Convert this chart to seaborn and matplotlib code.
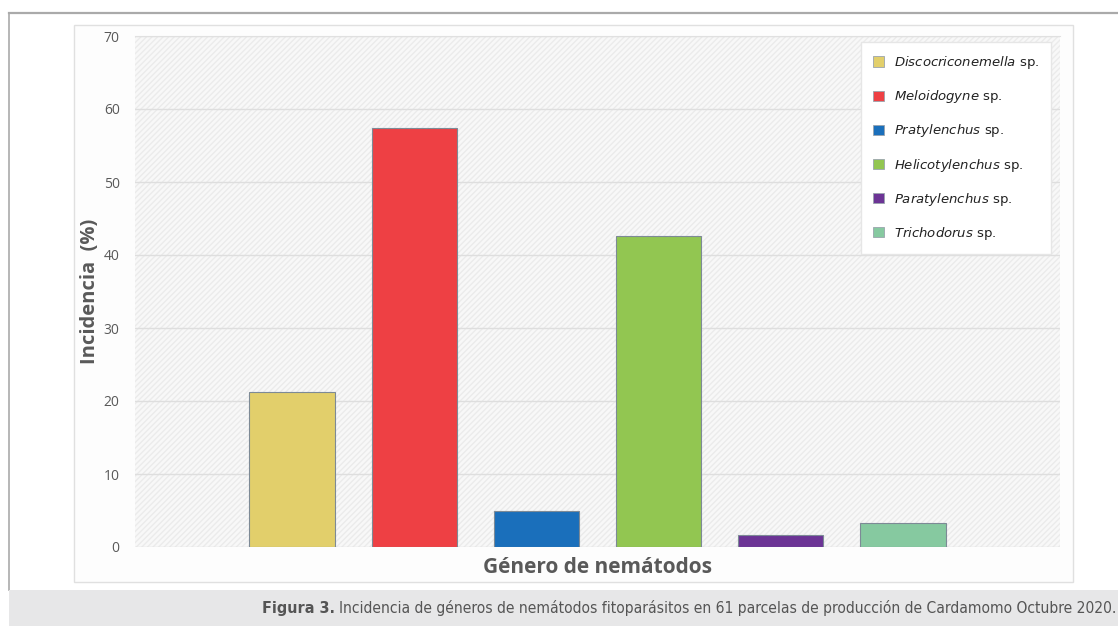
import matplotlib
matplotlib.use("Agg")
import matplotlib.pyplot as plt
import matplotlib.patches as mpatches
import seaborn as sns
import pandas as pd

# Data (incidence %, 61 plots)
generos = ["Discocriconemella", "Meloidogyne", "Pratylenchus",
           "Helicotylenchus", "Paratylenchus", "Trichodorus"]
incidencia = [21.3, 57.4, 4.9, 42.6, 1.6, 3.3]
colores = ["#e2cf6b", "#ee4044", "#1a6fbb", "#92c651", "#6c3495", "#86c9a0"]
yticks = [0, 10, 20, 30, 40, 50, 60, 70]

df = pd.DataFrame({"genero": generos, "incidencia": incidencia})

W, H = 1118, 626
fig = plt.figure(figsize=(W / 100, H / 100), dpi=100)
fig.patch.set_facecolor("white")

def fx(px):
    return px / W

def fy(py):
    return 1 - py / H

# outer frame lines + caption band
fig.add_artist(plt.Line2D([fx(9), 1], [fy(13), fy(13)], color="#aaaaaa", lw=1.6, zorder=-5))
fig.add_artist(plt.Line2D([fx(9), fx(9)], [fy(13), fy(590)], color="#aaaaaa", lw=1.2, zorder=-5))
fig.add_artist(mpatches.Rectangle((fx(9), 0), 1 - fx(9), fy(590), transform=fig.transFigure,
                                  facecolor="#e7e7e8", edgecolor="none", zorder=-5))
# inner chart box
fig.add_artist(mpatches.Rectangle((fx(74), fy(582)), fx(1073) - fx(74), fy(25) - fy(582),
                                  transform=fig.transFigure, facecolor="#fdfdfd",
                                  edgecolor="#e0e0e0", lw=1, zorder=-5))

ax = fig.add_axes([fx(135), fy(547), fx(1060) - fx(135), fy(36) - fy(547)])
ax.set_facecolor("#f6f6f6")
# hatched plot background
ax.add_patch(mpatches.Rectangle((0, 0), 1, 1, transform=ax.transAxes, facecolor="#f8f8f8",
                                edgecolor="#ebebeb", hatch="//////", lw=0, zorder=0))

sns.barplot(data=df, x="genero", y="incidencia", hue="genero", palette=colores,
            saturation=1, dodge=False, width=0.7, edgecolor="#7d8a96", linewidth=0.8,
            legend=False, ax=ax, zorder=3)

ax.set_xlim(-1.287, 6.287)
ax.set_ylim(0, 70)
ax.set_yticks(yticks)
ax.set_xticks([])
ax.yaxis.grid(True, color="#dedede", lw=1, zorder=1)
ax.set_axisbelow(True)
for s in ["left", "right", "bottom"]:
    ax.spines[s].set_visible(False)
ax.spines["top"].set_color("#e0e0e0")
ax.tick_params(axis="y", length=0, pad=11, labelsize=10, labelcolor="#595959")
for lab in ax.get_yticklabels():
    lab.set_family("Open Sans")

ax.set_ylabel("Incidencia  (%)", fontsize=14.5, fontweight="bold", color="#595959",
              family="Open Sans", labelpad=3)
ax.set_xlabel("Género de nemátodos", fontsize=15, fontweight="bold", color="#595959",
              family="Open Sans", labelpad=7)

# legend
handles = [mpatches.Patch(facecolor=c, edgecolor="#9aa4ad", lw=0.6) for c in colores]
labels = [r"$\it{" + g + "}$ sp." for g in generos]
leg = ax.legend(handles, labels, loc="upper right", bbox_to_anchor=(0.9935, 0.993),
                fontsize=9.5, labelspacing=1.3, handlelength=0.8, handleheight=0.8,
                handletextpad=0.8, borderpad=0.9, borderaxespad=0.2, frameon=True,
                fancybox=False, labelcolor="#222222")
leg.get_frame().set_facecolor("white")
leg.get_frame().set_edgecolor("#e6e6e6")
leg.get_frame().set_alpha(1)

# caption
t2 = fig.text(fx(1116), fy(608),
              "Incidencia de géneros de nemátodos fitoparásitos en 61 parcelas de producción de Cardamomo Octubre 2020.",
              fontsize=11.2, color="#555555", family="DejaVu Sans", fontstretch="condensed",
              ha="right", va="center")
fig.canvas.draw()
bb = t2.get_window_extent()
fig.text(bb.x0 / W - fx(4), fy(608), "Figura 3.", fontsize=11.5, fontweight="bold",
         color="#555555", family="DejaVu Sans", fontstretch="condensed",
         ha="right", va="center")

fig.savefig("out.png", dpi=100)
